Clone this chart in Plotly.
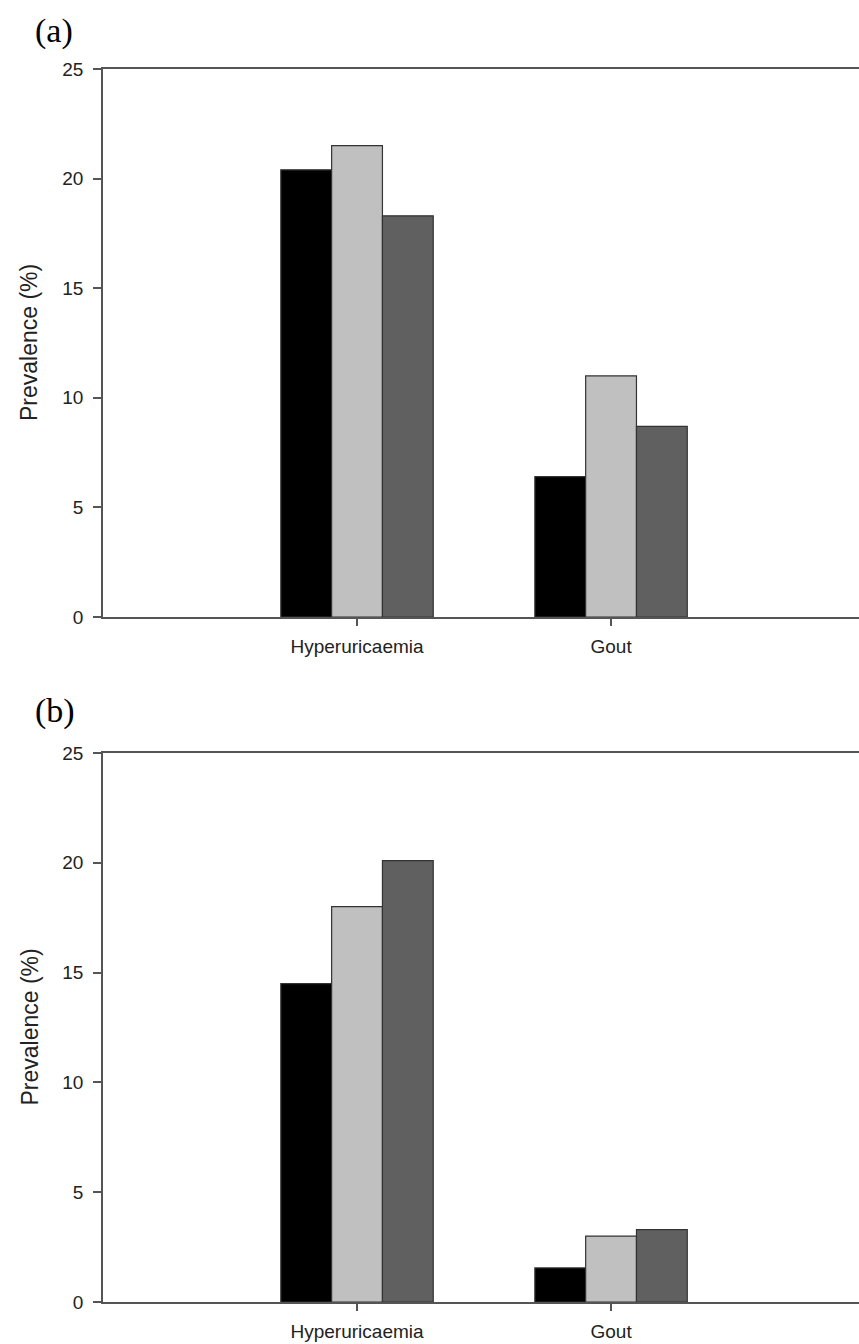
import plotly.graph_objects as go

categories = ["Hyperuricaemia", "Gout"]
series_names = ["Group 1", "Group 2", "Group 3"]
series_colors = ["#000000", "#c0c0c0", "#606060"]

# Panel (a)
panel_a = [
    [20.4, 6.4],
    [21.5, 11.0],
    [18.3, 8.7],
]
# Panel (b)
panel_b = [
    [14.5, 1.55],
    [18.0, 3.0],
    [20.1, 3.3],
]
y_ticks = [0, 5, 10, 15, 20, 25]

W, H = 859, 1344
fig = go.Figure()

for vals, xa, ya in [(panel_a, "x", "y"), (panel_b, "x2", "y2")]:
    for name, color, v in zip(series_names, series_colors, vals):
        fig.add_trace(go.Bar(
            x=categories, y=v, name=name, xaxis=xa, yaxis=ya,
            marker=dict(color=color, line=dict(color="#333333", width=1.2)),
            showlegend=False,
        ))

axis_line = "#555555"
tick_font = dict(family="Liberation Sans, Arial", size=19, color="#222222")

x_dom = [103 / W, 1.0]
y_dom_a = [1 - 617 / H, 1 - 69 / H]
y_dom_b = [1 - 1302 / H, 1 - 753 / H]

def xaxis_cfg(anchor):
    return dict(
        domain=x_dom, anchor=anchor, type="category", automargin=False,
        range=[-1, 1.976], showline=True, linecolor=axis_line, linewidth=1.6,
        mirror=True, ticks="outside", ticklen=7, tickcolor=axis_line, tickwidth=1.5,
        tickfont=tick_font, showgrid=False, zeroline=False,
        ticklabelstandoff=4,
    )

def yaxis_cfg(anchor, dom):
    return dict(
        domain=dom, anchor=anchor, range=[0, 25], tickvals=y_ticks, automargin=False,
        showline=True, linecolor=axis_line, linewidth=1.6, mirror=False,
        ticks="outside", ticklen=8, tickcolor=axis_line, tickwidth=1.5,
        tickfont=tick_font, showgrid=False, zeroline=False,
        ticklabelstandoff=6,
    )

fig.update_layout(
    width=W, height=H,
    margin=dict(l=0, r=0, t=0, b=0, autoexpand=False),
    paper_bgcolor="white", plot_bgcolor="white",
    barmode="group", bargap=0.4, bargroupgap=0,
    xaxis=xaxis_cfg("y"), yaxis=yaxis_cfg("x", y_dom_a),
    xaxis2=xaxis_cfg("y2"), yaxis2=yaxis_cfg("x2", y_dom_b),
)

title_font = dict(family="Liberation Sans, Arial", size=23, color="#222222")
panel_font = dict(family="Liberation Serif, Times New Roman", size=34, color="#000000")
for label, ycen, ymid in [("(a)", 31, (69 + 617) / 2), ("(b)", 711, (753 + 1302) / 2)]:
    fig.add_annotation(text=label, xref="paper", yref="paper",
                       x=33 / W, y=1 - ycen / H, xanchor="left", yanchor="middle",
                       showarrow=False, font=panel_font)
    fig.add_annotation(text="Prevalence (%)", xref="paper", yref="paper",
                       x=29 / W, y=1 - ymid / H, xanchor="center", yanchor="middle",
                       textangle=-90, showarrow=False, font=title_font)

fig.write_html(
    "out.html",
    config={"displayModeBar": False},
    post_script=(
        "document.documentElement.style.margin='0';"
        "document.documentElement.style.overflow='hidden';"
        "document.body.style.margin='0';document.body.style.overflow='hidden';"
        "var d=document.getElementById('{plot_id}');"
        "d.style.position='fixed';d.style.top='0px';d.style.left='0px';"
    ),
)
